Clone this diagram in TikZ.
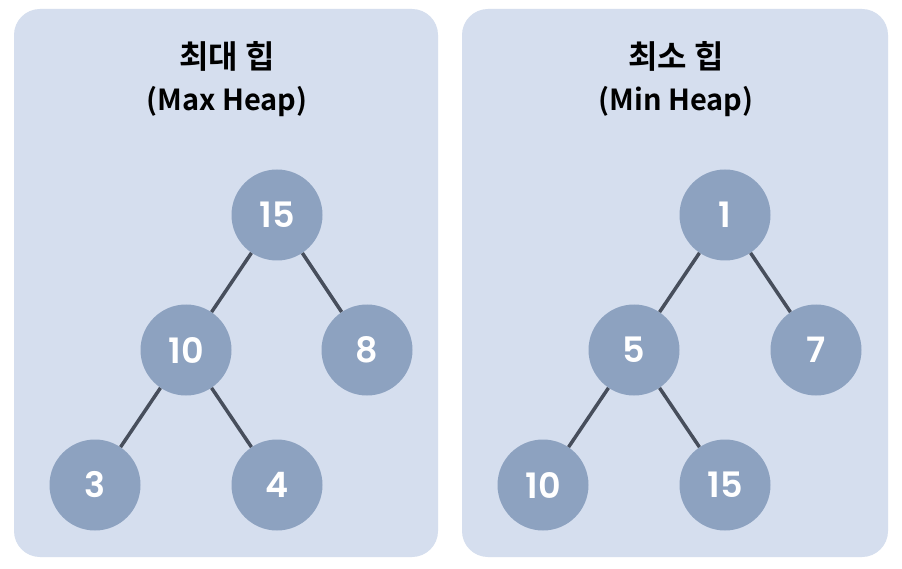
\documentclass[tikz,border=0pt]{standalone}
\usepackage{fontspec}
\setmainfont{Poppins}
\newfontfamily\krfont{Noto Sans CJK KR}[BoldFont=* Bold]
\newfontfamily\numfont{Poppins SemiBold}
\definecolor{panelbg}{HTML}{D5DEEE}
\definecolor{nodefill}{HTML}{8DA2C0}
\definecolor{edgecol}{HTML}{474E5C}
\tikzset{
  panel/.style={fill=panelbg, draw=none, rounded corners=26pt},
  hnode/.style={circle, fill=nodefill, minimum size=91pt, inner sep=0pt, text=white, font=\numfont\fontsize{35}{35}\selectfont},
  hedge/.style={draw=edgecol, line width=3.5pt},
  krtitle/.style={text=black, font=\krfont\bfseries\fontsize{32}{32}\selectfont},
  entitle/.style={text=black, font=\krfont\bfseries\fontsize{29}{29}\selectfont}
}
\begin{document}
\begin{tikzpicture}[x=1pt,y=-1pt]
\useasboundingbox (0,0) rectangle (902,569);
\fill[white] (0,0) rectangle (902,569);
\path[panel] (14,9) rectangle (438,557);
\path[panel] (462,9) rectangle (888,557);
\node[krtitle] (t1) at (227,56) {최대 힙};
\node[entitle] (t1b) at (227,102) {(Max Heap)};
\node[krtitle] (t2) at (676,56) {최소 힙};
\node[entitle] (t2b) at (676,102) {(Min Heap)};
% left
\node[hnode] (a) at (277,215) {15};
\node[hnode] (b) at (186,350) {10};
\node[hnode] (c) at (367,350) {8};
\node[hnode] (d) at (95,485) {3};
\node[hnode] (e) at (277,485) {4};
% right
\node[hnode] (f) at (725,215) {1};
\node[hnode] (g) at (634,350) {5};
\node[hnode] (h) at (816,350) {7};
\node[hnode] (i) at (543,485) {10};
\node[hnode] (j) at (725,485) {15};
\draw[hedge] (a) -- (b);
\draw[hedge] (a) -- (c);
\draw[hedge] (b) -- (d);
\draw[hedge] (b) -- (e);
\draw[hedge] (f) -- (g);
\draw[hedge] (f) -- (h);
\draw[hedge] (g) -- (i);
\draw[hedge] (g) -- (j);
\end{tikzpicture}
\end{document}
